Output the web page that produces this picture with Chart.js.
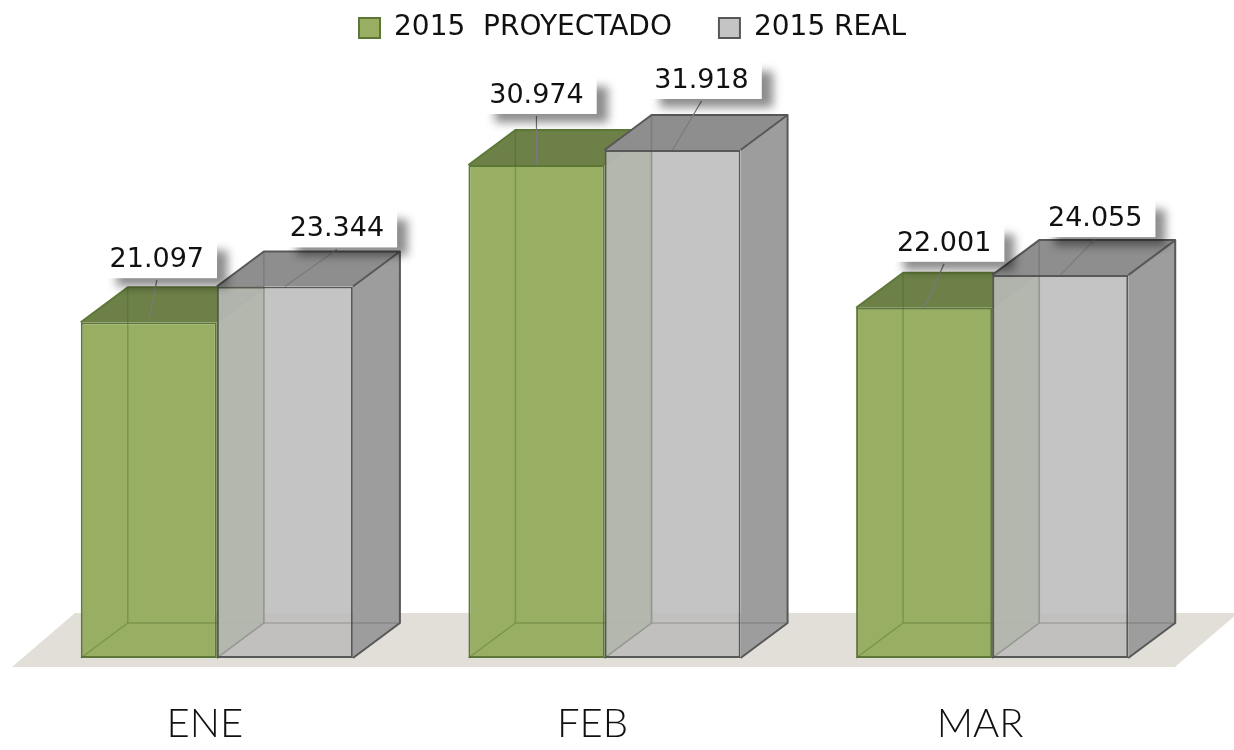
<!DOCTYPE html>
<html>
<head>
<meta charset="utf-8">
<script src="https://cdn.jsdelivr.net/npm/chart.js@4"></script>
<style>
  html, body { margin: 0; padding: 0; background: #fff; }
  #wrap { width: 1234px; height: 750px; position: relative; }
</style>
</head>
<body>
<div id="wrap"><canvas id="chart"></canvas></div>
<script>
/* data */
const categories = ["ENE", "FEB", "MAR"];
const seriesNames = ["2015  PROYECTADO", "2015 REAL"];
const proyectado = [21097, 30974, 22001];
const real = [23344, 31918, 24055];
const yMax = 36000;

/* look of the boxes */
const DEPTH = { x: 47, y: 35 };
const boxStyles = [
  { front: "#98ae63", side: "#7f9450", top: "#6c8047", edge: "#5d7836", inner: "rgba(70,100,35,0.35)" },
  { front: "rgba(188,188,188,0.875)", side: "#9d9d9d", top: "#8e8e8e", edge: "#585858", inner: "rgba(80,80,80,0.28)" }
];
// where each value label sits, relative to the top centre of its bar
const labelShift = [
  [[8, -63], [0, -70], [20, -65]],
  [[52, -58], [29, -70], [35, -57]]
];

const fmt = (n) => String(n).replace(/\B(?=(\d{3})+(?!\d))/g, ".");

/* floor under the bars */
const floorPlugin = {
  id: "floor",
  beforeDatasetsDraw(chart) {
    const { ctx, chartArea } = chart;
    const B = chart.scales.y.getPixelForValue(0);
    ctx.save();
    ctx.fillStyle = "#e1dfd8";
    ctx.beginPath();
    ctx.moveTo(chartArea.left - 11, B + 9);
    ctx.lineTo(chartArea.right - 11, B + 9);
    ctx.lineTo(chartArea.right + 52, B - 45);
    ctx.lineTo(chartArea.left + 52, B - 45);
    ctx.closePath();
    ctx.fill();
    ctx.restore();
  }
};

function drawFaces(ctx, bar, st) {
  const dx = DEPTH.x, dy = DEPTH.y;
  const p = bar.getProps(["x", "y", "base", "width"], true);
  const L = p.x - p.width / 2, R = p.x + p.width / 2, T = p.y, B = p.base;
  ctx.save();
  // side
  ctx.fillStyle = st.side;
  ctx.beginPath();
  ctx.moveTo(R, T); ctx.lineTo(R + dx, T - dy); ctx.lineTo(R + dx, B - dy); ctx.lineTo(R, B);
  ctx.closePath(); ctx.fill();
  // top
  ctx.fillStyle = st.top;
  ctx.beginPath();
  ctx.moveTo(L, T); ctx.lineTo(L + dx, T - dy); ctx.lineTo(R + dx, T - dy); ctx.lineTo(R, T);
  ctx.closePath(); ctx.fill();
  // hidden edges seen through
  ctx.strokeStyle = st.inner;
  ctx.lineWidth = 1.5;
  ctx.beginPath();
  ctx.moveTo(L, B); ctx.lineTo(L + dx, B - dy);
  ctx.moveTo(L + dx, T - dy); ctx.lineTo(L + dx, B - dy); ctx.lineTo(R + dx, B - dy);
  ctx.stroke();
  // outer edges
  ctx.strokeStyle = st.edge;
  ctx.lineWidth = 2;
  ctx.lineJoin = "round";
  ctx.beginPath();
  ctx.moveTo(L, T); ctx.lineTo(L + dx, T - dy); ctx.lineTo(R + dx, T - dy); ctx.lineTo(R, T);
  ctx.moveTo(R + dx, T - dy); ctx.lineTo(R + dx, B - dy); ctx.lineTo(R, B);
  ctx.stroke();
  ctx.restore();
}

/* bars as boxes: front by Chart.js, then faces; category by category */
const box3d = {
  id: "box3d",
  beforeDatasetDraw() { return false; },
  afterDatasetsDraw(chart) {
    const { ctx } = chart;
    const metas = chart.data.datasets.map((d, i) => chart.getDatasetMeta(i));
    categories.forEach((c, i) => {
      metas.forEach((meta, di) => {
        const bar = meta.data[i];
        bar.draw(ctx, chart.chartArea);
        drawFaces(ctx, bar, boxStyles[di]);
      });
    });
  }
};

/* value labels with white shadowed boxes */
const valueLabels = {
  id: "valueLabels",
  afterDatasetsDraw(chart) {
    const { ctx } = chart;
    ctx.save();
    ctx.font = "27px 'DejaVu Sans'";
    ctx.textAlign = "center";
    ctx.textBaseline = "middle";
    chart.data.datasets.forEach((ds, di) => {
      chart.getDatasetMeta(di).data.forEach((bar, i) => {
        const p = bar.getProps(["x", "y"], true);
        const cx = p.x + labelShift[di][i][0];
        const cy = p.y + labelShift[di][i][1];
        const txt = fmt(ds.data[i]);
        const w = ctx.measureText(txt).width;
        // leader line
        ctx.strokeStyle = "#7a7a7a";
        ctx.lineWidth = 1.2;
        ctx.beginPath();
        ctx.moveTo(p.x, p.y);
        ctx.lineTo(cx, cy + 21);
        ctx.stroke();
        // box
        ctx.save();
        ctx.shadowColor = "rgba(0,0,0,0.45)";
        ctx.shadowBlur = 9;
        ctx.shadowOffsetX = 11;
        ctx.shadowOffsetY = 9;
        ctx.fillStyle = "#fff";
        ctx.fillRect(cx - w / 2 - 5, cy - 18, w + 18, 37);
        ctx.restore();
        ctx.fillStyle = "#111";
        ctx.fillText(txt, cx, cy + 1);
      });
    });
    ctx.restore();
  }
};

/* move legend to where it sits in the original */
const legendNudge = {
  id: "legendNudge",
  afterLayout(chart) {
    const lg = chart.legend;
    if (!lg) return;
    lg.left += 28; lg.right += 28;
    lg.top -= 33; lg.bottom -= 33;
  }
};

new Chart(document.getElementById("chart"), {
  type: "bar",
  data: {
    labels: categories,
    datasets: [
      {
        label: seriesNames[0], data: proyectado,
        backgroundColor: boxStyles[0].front, borderColor: boxStyles[0].edge,
        borderWidth: 2, borderSkipped: false
      },
      {
        label: seriesNames[1], data: real,
        backgroundColor: boxStyles[1].front, borderColor: boxStyles[1].edge,
        borderWidth: 2, borderSkipped: false
      }
    ]
  },
  options: {
    responsive: true,
    maintainAspectRatio: false,
    animation: false,
    layout: { padding: { left: 23, right: 48, top: 0, bottom: 0 } },
    datasets: { bar: { barPercentage: 1, categoryPercentage: 0.702 } },
    plugins: {
      tooltip: { enabled: false },
      legend: {
        position: "top",
        labels: {
          boxWidth: 21, boxHeight: 20, padding: 47, color: "#111",
          font: { family: "'DejaVu Sans'", size: 28 }
        }
      }
    },
    scales: {
      x: {
        grid: { display: false, drawTicks: false },
        border: { display: false },
        afterFit(scale) { scale.height = 92; },
        ticks: {
          padding: 42, labelOffset: -12, color: "#111",
          font: { family: "Lato", size: 40, weight: "300" }
        }
      },
      y: { display: false, min: 0, max: yMax }
    }
  },
  plugins: [floorPlugin, box3d, valueLabels, legendNudge]
});
</script>
</body>
</html>
